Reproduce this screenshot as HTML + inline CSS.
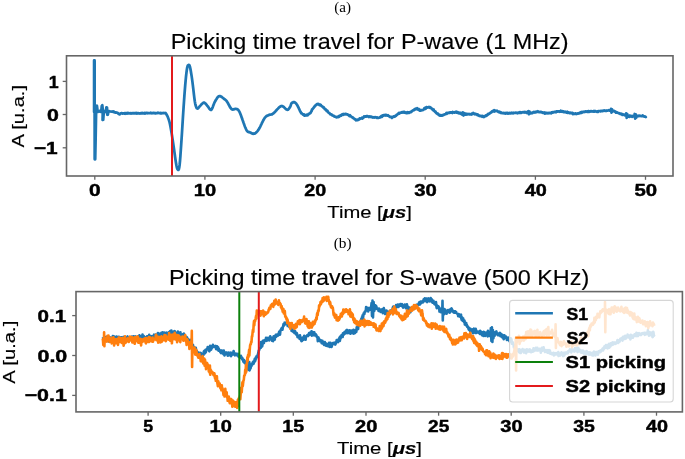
<!DOCTYPE html>
<html><head><meta charset="utf-8"><style>html,body{margin:0;padding:0;background:#fff;overflow:hidden}svg{display:block;will-change:transform}</style></head><body>
<svg width="685" height="459" viewBox="0 0 685 459">
<rect width="685" height="459" fill="#fff"/>
<clipPath id="c1"><rect x="66.5" y="55.8" width="606.5" height="120.2"/></clipPath>
<g clip-path="url(#c1)"><polyline points="94.1,112.0 94.1,60.4 94.6,60.4 94.7,159.3 95.2,159.3 95.6,140.0 96.1,113.0 96.4,106.5 96.9,105.6 97.4,109.5 98.0,111.8 99.0,110.8 100.0,111.6 101.2,111.8 101.8,106.0 102.3,105.2 102.8,110.0 102.6,120.0 103.2,119.8 103.8,112.0 104.8,111.0 105.8,112.0 106.4,107.3 107.0,107.5 107.3,114.8 107.9,114.6 108.5,111.0 110.0,111.3 112.0,111.6 112.4,111.5 112.8,111.9 113.2,111.5 113.6,112.0 114.0,111.7 114.4,112.3 114.8,112.3 115.2,112.5 115.6,112.3 116.0,112.6 116.4,112.5 116.8,112.6 117.2,112.8 117.6,112.8 118.0,113.2 118.4,113.8 118.8,114.0 119.2,114.1 119.6,114.4 120.0,113.8 120.4,113.4 120.8,113.4 121.2,113.2 121.6,113.2 122.0,113.2 122.4,113.6 122.8,113.3 123.2,113.3 123.6,113.4 124.0,113.6 124.4,113.3 124.8,113.2 125.2,113.7 125.6,113.1 126.0,113.2 126.4,113.4 126.8,113.6 127.2,113.1 127.6,112.9 128.0,113.4 128.4,113.2 128.8,113.2 129.2,113.3 129.6,113.3 130.0,113.3 130.4,113.2 130.8,113.5 131.2,113.5 131.6,113.3 132.0,113.2 132.4,113.4 132.8,113.3 133.2,113.1 133.6,113.2 134.0,113.4 134.4,113.2 134.8,113.2 135.2,113.3 135.6,113.2 136.0,113.2 136.4,112.9 136.8,113.5 137.2,113.2 137.6,113.1 138.0,113.4 138.4,113.3 138.8,113.2 139.2,113.4 139.6,113.5 140.0,113.3 140.4,113.4 140.8,113.5 141.2,113.0 141.6,113.1 142.0,113.3 142.4,112.9 142.8,113.1 143.2,113.4 143.6,113.3 144.0,113.3 144.4,112.9 144.8,113.5 145.2,113.2 145.6,113.3 146.0,113.2 146.4,112.9 146.8,112.9 147.2,113.0 147.6,113.4 148.0,113.0 148.4,113.1 148.8,113.1 149.2,113.2 149.6,113.2 150.0,113.2 150.4,112.9 150.8,112.7 151.2,113.1 151.6,113.2 152.0,113.3 152.4,113.1 152.8,113.0 153.2,113.2 153.6,112.9 154.0,112.9 154.4,113.0 154.8,113.1 155.2,113.4 155.6,113.2 156.0,113.3 156.4,113.1 156.8,113.1 157.2,113.0 157.6,113.0 158.0,112.7 158.4,112.9 158.8,112.9 159.2,113.2 159.6,113.2 160.0,113.2 160.4,113.3 160.8,113.0 161.2,113.2 161.6,113.4 162.0,113.1 162.4,113.2 162.8,113.1 163.2,112.9 163.6,113.1 164.0,113.0 164.4,113.2 164.8,113.1 165.2,113.3 165.6,113.0 166.0,113.6 166.4,114.3 166.8,115.0 167.2,115.7 167.6,116.5 168.0,117.5 168.4,118.6 168.8,119.7 169.2,121.0 169.6,122.5 170.0,124.2 170.4,126.2 170.8,128.4 171.2,130.7 171.6,133.0 172.0,135.5 172.4,138.1 172.8,140.7 173.2,143.5 173.6,146.2 174.0,149.0 174.4,151.9 174.8,154.8 175.2,157.7 175.6,160.5 176.0,163.0 176.4,165.2 176.8,167.1 177.2,168.6 177.6,169.4 178.0,169.8 178.4,169.9 178.8,169.3 179.2,167.7 179.6,165.0 180.0,161.0 180.4,155.9 180.8,150.2 181.2,144.4 181.6,138.5 182.0,132.4 182.4,125.9 182.8,119.3 183.2,113.1 183.6,107.1 184.0,101.4 184.4,95.7 184.8,90.4 185.2,85.4 185.6,80.8 186.0,76.7 186.4,73.1 186.8,70.0 187.2,67.5 187.6,66.0 188.0,65.3 188.4,65.0 188.8,64.9 189.2,65.0 189.6,65.7 190.0,67.0 190.4,68.9 190.8,71.0 191.2,73.4 191.6,75.9 192.0,78.6 192.4,81.6 192.8,84.8 193.2,88.2 193.6,91.7 194.0,95.2 194.4,98.4 194.8,101.3 195.2,103.6 195.6,105.3 196.0,106.5 196.4,107.5 196.8,108.2 197.2,108.5 197.6,108.6 198.0,108.4 198.4,108.0 198.8,107.5 199.2,106.9 199.6,106.5 200.0,106.0 200.4,105.6 200.8,105.1 201.2,104.7 201.6,104.2 202.0,103.8 202.4,103.5 202.8,103.1 203.2,102.9 203.6,102.7 204.0,102.6 204.4,102.8 204.8,103.0 205.2,103.3 205.6,103.7 206.0,104.2 206.4,104.7 206.8,105.2 207.2,105.7 207.6,106.1 208.0,106.7 208.4,107.2 208.8,107.8 209.2,108.4 209.6,109.0 210.0,109.4 210.4,109.8 210.8,109.8 211.2,109.9 211.6,109.4 212.0,108.8 212.4,107.9 212.8,106.9 213.2,105.8 213.6,104.7 214.0,103.7 214.4,102.8 214.8,101.9 215.2,101.2 215.6,100.5 216.0,99.8 216.4,99.2 216.8,98.5 217.2,97.9 217.6,97.4 218.0,96.9 218.4,96.6 218.8,96.4 219.2,96.1 219.6,96.1 220.0,96.2 220.4,96.2 220.8,96.4 221.2,96.6 221.6,96.9 222.0,97.1 222.4,97.5 222.8,97.8 223.2,98.1 223.6,98.4 224.0,98.8 224.4,99.1 224.8,99.4 225.2,99.7 225.6,100.0 226.0,100.4 226.4,100.8 226.8,101.4 227.2,101.9 227.6,102.6 228.0,103.3 228.4,104.0 228.8,104.8 229.2,105.5 229.6,106.3 230.0,107.0 230.4,107.7 230.8,108.2 231.2,108.7 231.6,109.2 232.0,109.3 232.4,109.5 232.8,109.6 233.2,109.5 233.6,109.4 234.0,109.3 234.4,109.1 234.8,109.0 235.2,108.9 235.6,108.9 236.0,108.9 236.4,109.0 236.8,109.1 237.2,109.2 237.6,109.4 238.0,109.7 238.4,110.1 238.8,110.7 239.2,111.4 239.6,112.1 240.0,113.1 240.4,114.1 240.8,115.1 241.2,116.1 241.6,117.2 242.0,118.3 242.4,119.5 242.8,120.6 243.2,121.7 243.6,122.9 244.0,124.0 244.4,125.1 244.8,126.2 245.2,127.2 245.6,128.1 246.0,129.1 246.4,129.9 246.8,130.5 247.2,131.2 247.6,131.5 248.0,131.8 248.4,132.0 248.8,132.0 249.2,132.1 249.6,132.2 250.0,132.4 250.4,132.6 250.8,132.8 251.2,133.0 251.6,133.2 252.0,133.4 252.4,133.5 252.8,133.7 253.2,133.8 253.6,133.7 254.0,133.7 254.4,133.6 254.8,133.4 255.2,133.3 255.6,133.0 256.0,132.7 256.4,132.3 256.8,131.9 257.2,131.5 257.6,131.0 258.0,130.4 258.4,129.9 258.8,129.2 259.2,128.5 259.6,127.8 260.0,127.1 260.4,126.3 260.8,125.4 261.2,124.6 261.6,123.8 262.0,122.9 262.4,122.1 262.8,121.3 263.2,120.5 263.6,119.8 264.0,119.1 264.4,118.4 264.8,117.8 265.2,117.4 265.6,116.9 266.0,116.5 266.4,116.2 266.8,115.9 267.2,115.8 267.6,115.6 268.0,115.4 268.4,115.2 268.8,115.0 269.2,114.9 269.6,114.7 270.0,114.7 270.4,114.6 270.8,114.6 271.2,114.5 271.6,114.4 272.0,114.3 272.4,114.0 272.8,113.8 273.2,113.6 273.6,113.2 274.0,112.8 274.4,112.4 274.8,112.1 275.2,111.6 275.6,111.2 276.0,110.7 276.4,110.3 276.8,109.8 277.2,109.4 277.6,109.0 278.0,108.6 278.4,108.1 278.8,107.7 279.2,107.3 279.6,107.0 280.0,106.8 280.4,106.5 280.8,106.3 281.2,106.0 281.6,106.1 282.0,106.1 282.4,106.2 282.8,106.3 283.2,106.6 283.6,106.9 284.0,107.2 284.4,107.6 284.8,108.0 285.2,108.4 285.6,108.8 286.0,109.1 286.4,109.4 286.8,109.6 287.2,109.8 287.6,109.7 288.0,109.6 288.4,109.3 288.8,108.9 289.2,108.3 289.6,107.7 290.0,107.1 290.4,106.3 290.8,105.1 291.2,103.9 291.6,103.2 292.0,102.9 292.4,102.6 292.8,102.4 293.2,102.2 293.6,102.1 294.0,102.1 294.4,102.2 294.8,102.4 295.2,102.6 295.6,103.0 296.0,103.4 296.4,103.9 296.8,104.5 297.2,105.1 297.6,105.8 298.0,106.6 298.4,107.4 298.8,108.3 299.2,109.2 299.6,110.0 300.0,110.9 300.4,111.8 300.8,112.1 301.2,113.2 301.6,113.2 302.0,113.5 302.4,114.0 302.8,114.4 303.2,114.6 303.6,114.9 304.0,114.4 304.4,115.6 304.8,115.1 305.2,115.5 305.6,115.2 306.0,115.4 306.4,115.3 306.8,114.8 307.2,115.3 307.6,115.2 308.0,114.5 308.4,114.0 308.8,114.1 309.2,113.8 309.6,113.7 310.0,113.2 310.4,113.2 310.8,112.4 311.2,111.6 311.6,111.0 312.0,109.6 312.4,109.4 312.8,108.7 313.2,108.3 313.6,107.9 314.0,107.2 314.4,106.9 314.8,106.0 315.2,105.8 315.6,105.3 316.0,104.9 316.4,104.7 316.8,104.2 317.2,104.2 317.6,104.0 318.0,104.3 318.4,104.0 318.8,104.2 319.2,105.0 319.6,104.6 320.0,104.8 320.4,105.2 320.8,104.9 321.2,105.6 321.6,106.0 322.0,106.2 322.4,106.7 322.8,107.0 323.2,107.5 323.6,107.3 324.0,108.0 324.4,108.2 324.8,109.1 325.2,109.2 325.6,109.2 326.0,110.1 326.4,110.2 326.8,111.1 327.2,111.2 327.6,111.0 328.0,111.9 328.4,112.6 328.8,112.8 329.2,112.8 329.6,113.5 330.0,113.8 330.4,114.3 330.8,114.4 331.2,114.6 331.6,114.5 332.0,115.1 332.4,115.4 332.8,115.5 333.2,115.9 333.6,115.6 334.0,116.4 334.4,116.4 334.8,116.7 335.2,116.7 335.6,116.8 336.0,117.1 336.4,117.3 336.8,117.0 337.2,117.2 337.6,116.9 338.0,117.1 338.4,116.8 338.8,116.2 339.2,116.7 339.6,115.9 340.0,116.0 340.4,115.4 340.8,115.1 341.2,115.6 341.6,114.8 342.0,114.4 342.4,114.7 342.8,114.1 343.2,114.3 343.6,114.7 344.0,114.0 344.4,114.1 344.8,114.1 345.2,114.0 345.6,113.9 346.0,114.4 346.4,114.1 346.8,114.4 347.2,114.5 347.6,114.3 348.0,114.9 348.4,115.0 348.8,115.4 349.2,115.6 349.6,116.1 350.0,115.3 350.4,115.9 350.8,116.2 351.2,116.4 351.6,117.0 352.0,117.2 352.4,117.5 352.8,117.3 353.2,117.8 353.6,118.3 354.0,118.5 354.4,118.8 354.8,119.2 355.2,119.4 355.6,119.4 356.0,120.3 356.4,119.8 356.8,120.2 357.2,120.1 357.6,120.2 358.0,119.6 358.4,119.4 358.8,119.6 359.2,119.4 359.6,118.5 360.0,118.3 360.4,118.7 360.8,118.5 361.2,118.4 361.6,118.4 362.0,117.8 362.4,118.6 362.8,117.9 363.2,117.8 363.6,117.3 364.0,116.5 364.4,116.9 364.8,116.6 365.2,116.7 365.6,116.5 366.0,116.6 366.4,116.1 366.8,116.3 367.2,116.4 367.6,116.2 368.0,116.3 368.4,116.6 368.8,117.0 369.2,116.5 369.6,116.9 370.0,116.4 370.4,116.6 370.8,116.9 371.2,117.1 371.6,116.7 372.0,117.2 372.4,117.1 372.8,117.5 373.2,117.5 373.6,117.4 374.0,117.2 374.4,117.5 374.8,117.3 375.2,117.4 375.6,117.2 376.0,117.4 376.4,117.4 376.8,117.8 377.2,117.9 377.6,117.5 378.0,117.8 378.4,117.9 378.8,117.9 379.2,117.5 379.6,117.5 380.0,117.2 380.4,117.4 380.8,116.5 381.2,116.8 381.6,115.9 382.0,116.8 382.4,116.4 382.8,115.4 383.2,115.7 383.6,115.3 384.0,115.0 384.4,115.3 384.8,115.1 385.2,115.5 385.6,115.0 386.0,114.8 386.4,115.2 386.8,115.4 387.2,115.6 387.6,115.7 388.0,115.3 388.4,115.7 388.8,116.1 389.2,116.1 389.6,116.8 390.0,116.7 390.4,116.9 390.8,117.0 391.2,117.2 391.6,116.9 392.0,117.9 392.4,117.2 392.8,117.0 393.2,116.6 393.6,116.9 394.0,116.4 394.4,116.7 394.8,116.6 395.2,116.2 395.6,115.6 396.0,115.8 396.4,115.1 396.8,114.9 397.2,114.6 397.6,114.1 398.0,114.1 398.4,113.4 398.8,113.0 399.2,113.6 399.6,112.9 400.0,112.9 400.4,112.9 400.8,112.6 401.2,112.3 401.6,112.5 402.0,112.2 402.4,112.5 402.8,112.2 403.2,112.2 403.6,112.5 404.0,111.9 404.4,111.9 404.8,112.6 405.2,112.8 405.6,112.6 406.0,112.4 406.4,113.0 406.8,112.8 407.2,113.0 407.6,112.3 408.0,112.7 408.4,112.4 408.8,112.3 409.2,112.8 409.6,112.6 410.0,112.1 410.4,112.0 410.8,112.2 411.2,111.8 411.6,111.4 412.0,111.3 412.4,110.9 412.8,110.3 413.2,110.3 413.6,110.2 414.0,110.1 414.4,109.3 414.8,109.2 415.2,109.1 415.6,108.6 416.0,109.2 416.4,108.9 416.8,109.1 417.2,108.2 417.6,108.6 418.0,109.5 418.4,108.9 418.8,109.1 419.2,109.9 419.6,110.6 420.0,110.4 420.4,110.0 420.8,110.5 421.2,110.4 421.6,110.2 422.0,110.1 422.4,110.1 422.8,110.0 423.2,109.9 423.6,109.6 424.0,109.0 424.4,108.3 424.8,108.8 425.2,108.0 425.6,108.8 426.0,107.7 426.4,107.3 426.8,107.1 427.2,107.6 427.6,107.5 428.0,107.4 428.4,107.3 428.8,107.0 429.2,107.5 429.6,107.1 430.0,107.1 430.4,107.9 430.8,108.1 431.2,108.0 431.6,108.5 432.0,109.1 432.4,109.4 432.8,109.2 433.2,110.1 433.6,109.5 434.0,110.6 434.4,111.1 434.8,111.3 435.2,111.8 435.6,111.7 436.0,112.6 436.4,113.1 436.8,113.1 437.2,113.8 437.6,114.0 438.0,113.8 438.4,114.5 438.8,115.1 439.2,114.7 439.6,115.3 440.0,115.6 440.4,115.1 440.8,115.4 441.2,115.7 441.6,115.7 442.0,115.1 442.4,115.5 442.8,115.1 443.2,114.9 443.6,115.1 444.0,114.7 444.4,114.4 444.8,114.3 445.2,114.0 445.6,114.0 446.0,113.5 446.4,112.9 446.8,113.7 447.2,113.3 447.6,113.2 448.0,113.0 448.4,112.8 448.8,112.8 449.2,112.5 449.6,112.9 450.0,112.6 450.4,112.3 450.8,112.6 451.2,112.3 451.6,112.4 452.0,112.5 452.4,113.0 452.8,112.0 453.2,112.4 453.6,112.4 454.0,112.3 454.4,112.6 454.8,112.1 455.2,112.1 455.6,112.2 456.0,111.8 456.4,112.6 456.8,112.0 457.2,112.6 457.6,112.8 458.0,112.3 458.4,112.7 458.8,112.8 459.2,113.4 459.6,113.2 460.0,112.7 460.4,113.6 460.8,113.8 461.2,113.1 461.6,113.0 462.0,114.5 462.4,113.9 462.8,113.4 463.0,112.5 463.5,115.5 464.0,113.0 464.5,114.5 464.9,114.5 465.3,114.6 465.7,113.6 466.1,114.6 466.5,114.4 466.9,114.2 467.3,114.0 467.7,114.3 468.1,114.0 468.5,114.2 468.9,114.1 469.3,114.0 469.7,114.3 470.1,114.4 470.5,114.3 470.9,114.2 471.3,114.5 471.7,113.6 472.1,113.9 472.5,113.8 472.9,114.0 473.3,113.0 473.7,113.5 474.1,113.5 474.5,113.7 474.9,114.3 475.3,113.9 475.7,113.9 476.1,114.2 476.5,114.5 476.9,114.4 477.3,115.1 477.7,114.5 478.1,115.4 478.5,115.4 478.9,115.7 479.3,116.0 479.7,115.7 480.1,116.0 480.5,116.1 480.9,116.0 481.3,116.2 481.7,116.2 482.1,116.7 482.5,115.9 482.9,116.2 483.3,116.6 483.7,117.0 484.1,116.4 484.5,116.7 484.9,116.1 485.3,115.8 485.7,115.4 486.1,115.7 486.5,115.9 486.9,115.2 487.3,114.6 487.7,114.8 488.1,114.0 488.5,113.8 488.9,114.1 489.3,113.7 489.7,113.5 490.1,113.0 490.5,112.7 490.9,112.5 491.3,112.0 491.7,112.2 492.1,111.3 492.5,111.0 492.9,111.1 493.3,111.4 493.7,110.8 494.1,110.2 494.5,111.5 494.9,110.5 495.3,110.7 495.7,111.0 496.1,110.9 496.5,110.9 496.9,110.7 497.3,111.4 497.7,111.2 498.1,111.6 498.5,112.0 498.9,111.9 499.3,111.7 499.7,112.2 500.1,112.6 500.5,112.8 500.9,112.3 501.3,112.8 501.7,112.9 502.1,113.2 502.5,113.0 502.9,113.0 503.3,112.9 503.7,113.2 504.1,113.3 504.5,113.1 504.9,113.0 505.3,113.6 505.7,113.2 506.1,113.0 506.5,113.4 506.9,112.9 507.3,112.9 507.7,113.5 508.1,113.2 508.5,113.5 508.9,113.4 509.3,113.0 509.7,113.4 510.1,113.1 510.5,113.3 510.9,113.3 511.3,113.2 511.7,112.8 512.1,113.2 512.5,113.1 512.9,113.3 513.3,112.8 513.7,113.1 514.1,113.0 514.5,112.9 514.9,112.9 515.3,112.9 515.7,112.6 516.1,112.8 516.5,112.8 516.9,113.0 517.3,112.8 517.7,113.2 518.1,112.9 518.5,112.8 518.9,112.7 519.3,112.3 519.7,112.7 520.1,112.9 520.5,112.3 520.9,112.9 521.3,112.7 521.7,112.5 522.1,112.3 522.5,112.4 522.9,112.1 523.3,112.3 523.7,112.3 524.1,112.3 524.5,111.9 524.9,112.5 525.3,112.1 525.7,112.3 526.1,112.4 526.5,112.2 526.9,113.0 527.3,112.3 527.7,112.5 528.1,112.4 528.5,112.7 528.5,111.0 529.0,114.2 529.5,111.5 530.0,113.5 530.4,112.8 530.8,113.3 531.2,113.0 531.6,112.9 532.0,113.2 532.4,113.1 532.8,112.6 533.2,112.4 533.6,112.0 534.0,112.1 534.4,112.5 534.8,112.4 535.2,111.8 535.6,112.0 536.0,112.3 536.4,111.7 536.8,111.7 537.2,111.6 537.6,111.9 538.0,111.3 538.4,111.8 538.8,112.0 539.2,111.9 539.6,112.2 540.0,112.2 540.4,111.9 540.8,111.9 541.2,111.9 541.6,112.4 542.0,112.3 542.4,112.5 542.8,112.3 543.2,112.9 543.6,112.9 544.0,113.0 544.4,112.5 544.8,113.6 545.2,113.2 545.6,112.7 546.0,113.3 546.4,113.0 546.8,112.9 547.2,112.9 547.6,113.3 548.0,113.3 548.4,113.2 548.8,113.0 549.2,112.8 549.6,113.1 550.0,112.9 550.4,112.9 550.8,113.0 551.2,113.2 551.6,112.5 552.0,112.8 552.4,112.2 552.8,112.6 553.2,112.4 553.6,112.2 554.0,112.1 554.4,111.8 554.8,111.8 555.2,112.0 555.6,111.9 556.0,112.3 556.4,111.3 556.8,111.4 557.2,111.5 557.6,111.5 558.0,111.3 558.4,111.3 558.8,111.4 559.2,111.8 559.6,111.4 560.0,111.3 560.4,111.6 560.8,110.8 561.2,111.3 561.6,111.4 562.0,111.7 562.4,111.1 562.8,111.7 563.2,111.5 563.6,112.1 564.0,112.1 564.4,111.8 564.8,112.1 565.2,111.7 565.6,112.2 566.0,112.3 566.4,112.5 566.8,112.2 567.2,111.8 567.6,112.7 568.0,112.2 568.4,112.4 568.8,112.5 569.2,113.1 569.6,112.7 570.0,113.1 570.4,112.9 570.8,112.6 571.2,113.1 571.6,113.2 572.0,113.0 572.4,112.9 572.8,114.1 573.2,114.1 573.6,113.7 574.0,113.8 574.4,113.9 574.8,113.9 575.2,113.3 575.6,113.3 576.0,113.9 576.4,114.0 576.8,113.8 577.2,113.7 577.6,113.4 578.0,113.6 578.4,113.6 578.8,113.2 579.2,113.3 579.6,113.2 580.0,112.6 580.4,113.0 580.8,112.3 581.2,112.2 581.6,112.8 582.0,111.8 582.4,112.1 582.8,112.3 583.2,112.1 583.6,111.9 584.0,111.6 584.4,112.0 584.8,111.9 585.2,111.7 585.6,111.5 586.0,111.3 586.4,111.7 586.8,111.6 587.2,111.9 587.6,111.5 588.0,111.8 588.4,111.2 588.8,111.1 589.2,111.8 589.6,111.4 590.0,111.3 590.4,111.5 590.8,111.2 591.2,111.4 591.6,111.1 592.0,111.5 592.4,111.3 592.8,111.4 593.2,111.4 593.6,111.6 594.0,111.0 594.4,111.5 594.8,111.3 595.2,111.1 595.6,111.3 596.0,111.5 596.4,111.5 596.8,111.9 597.2,111.3 597.6,111.4 598.0,111.9 598.4,111.2 598.8,111.1 599.2,111.2 599.6,111.1 600.0,111.2 600.4,111.3 600.8,111.0 601.2,110.9 601.6,111.1 602.0,110.8 602.4,110.8 602.8,111.1 603.2,110.9 603.6,110.6 604.0,110.5 604.4,110.6 604.8,110.4 605.2,110.9 605.6,110.9 606.0,110.8 606.4,110.8 606.8,110.5 607.2,110.6 607.6,110.6 608.0,110.5 608.4,110.4 608.8,110.2 609.2,110.6 609.6,110.6 610.0,110.2 610.4,110.5 610.8,110.6 611.0,108.8 611.5,112.6 612.0,109.4 612.5,111.6 612.9,111.1 613.3,110.7 613.7,110.9 614.1,111.0 614.5,111.2 614.9,111.3 615.3,112.0 615.7,111.6 616.1,112.7 616.5,112.3 616.9,112.6 617.3,112.5 617.7,112.9 618.1,112.9 618.5,113.1 618.9,113.2 619.3,113.4 619.7,113.5 620.1,113.8 620.5,113.6 620.9,113.6 621.3,114.3 621.7,113.9 622.1,114.3 622.5,114.9 622.9,114.3 623.3,114.6 623.7,114.6 624.1,114.7 624.5,115.2 624.9,115.2 625.3,115.4 625.7,115.0 626.1,115.7 626.2,113.4 626.7,117.9 627.2,114.0 627.7,117.0 628.1,115.9 628.5,115.6 628.9,116.0 629.3,115.8 629.7,116.7 630.1,115.8 630.5,116.3 630.9,116.0 631.3,116.1 631.7,116.0 632.1,116.7 632.5,116.1 632.9,116.2 633.3,116.4 633.7,116.3 634.1,116.5 634.5,116.1 634.7,114.0 635.2,118.6 635.7,114.4 636.2,117.6 636.6,115.7 637.0,116.2 637.4,116.3 637.8,116.1 638.2,115.7 638.6,116.2 639.0,116.0 639.4,115.7 639.8,115.9 640.2,115.8 640.6,115.9 641.0,116.1 641.4,116.2 641.8,116.0 642.2,116.1 642.6,115.5 643.0,116.0 643.4,116.4 643.8,116.2 644.2,116.6 644.6,116.5 645.0,116.6 645.4,116.7 645.8,117.1" fill="none" stroke="#1f77b4" stroke-width="2.75" stroke-linejoin="round" stroke-linecap="round"/>
<line x1="172" y1="55.8" x2="172" y2="176.0" stroke="#e31a1c" stroke-width="2"/></g>
<rect x="66.5" y="55.8" width="606.5" height="120.2" fill="none" stroke="#666666" stroke-width="1.6"/>
<line x1="94.8" y1="176.0" x2="94.8" y2="179.8" stroke="#666666" stroke-width="1.3"/>
<line x1="204.9" y1="176.0" x2="204.9" y2="179.8" stroke="#666666" stroke-width="1.3"/>
<line x1="315.1" y1="176.0" x2="315.1" y2="179.8" stroke="#666666" stroke-width="1.3"/>
<line x1="425.2" y1="176.0" x2="425.2" y2="179.8" stroke="#666666" stroke-width="1.3"/>
<line x1="535.4" y1="176.0" x2="535.4" y2="179.8" stroke="#666666" stroke-width="1.3"/>
<line x1="645.5" y1="176.0" x2="645.5" y2="179.8" stroke="#666666" stroke-width="1.3"/>
<line x1="62.7" y1="81.4" x2="66.5" y2="81.4" stroke="#666666" stroke-width="1.3"/>
<line x1="62.7" y1="114.5" x2="66.5" y2="114.5" stroke="#666666" stroke-width="1.3"/>
<line x1="62.7" y1="147.8" x2="66.5" y2="147.8" stroke="#666666" stroke-width="1.3"/>
<clipPath id="c2"><rect x="76.0" y="291.6" width="606.4" height="120.29999999999995"/></clipPath>
<g clip-path="url(#c2)">
<polyline points="103.0,337.0 103.3,338.9 103.7,339.7 104.0,337.9 104.4,336.9 104.7,338.4 105.1,339.0 105.4,339.8 105.8,337.0 106.1,336.9 106.5,339.3 106.8,339.0 107.2,340.2 107.5,339.6 107.9,338.3 108.2,338.1 108.6,341.5 108.9,338.0 109.3,337.4 109.6,337.0 110.0,338.5 110.3,338.5 110.7,337.9 111.0,338.2 111.4,338.6 111.7,339.1 112.1,339.6 112.4,338.5 112.8,336.1 113.1,339.1 113.5,336.5 113.8,338.0 114.2,336.5 114.5,338.2 114.9,337.3 115.2,338.4 115.6,341.3 115.9,338.1 116.3,339.2 116.6,336.5 117.0,337.8 117.3,338.9 117.7,338.0 118.0,338.5 118.4,338.2 118.7,336.9 119.1,338.7 119.4,337.1 119.8,340.3 120.1,337.4 120.5,338.8 120.8,338.0 121.2,339.1 121.5,337.2 121.9,339.1 122.2,337.8 122.6,339.4 122.9,338.6 123.3,338.0 123.6,336.9 124.0,338.8 124.3,338.4 124.7,339.8 125.0,337.3 125.4,338.4 125.7,338.4 126.1,338.1 126.4,338.0 126.8,337.9 127.1,337.0 127.5,336.5 127.8,337.2 128.2,338.4 128.5,339.5 128.9,338.8 129.2,338.9 129.6,338.5 129.9,338.4 130.3,337.8 130.6,338.5 131.0,339.7 131.3,337.2 131.7,336.7 132.0,339.9 132.4,337.8 132.7,338.7 133.1,338.6 133.4,336.2 133.8,340.4 134.1,339.6 134.5,337.7 134.8,338.4 135.2,337.6 135.5,336.4 135.9,337.4 136.2,337.9 136.6,338.8 136.9,338.3 137.3,337.5 137.6,339.1 138.0,336.5 138.3,338.4 138.7,338.8 139.0,337.1 139.4,335.3 139.7,336.3 140.1,337.7 140.4,338.0 140.8,339.2 141.1,336.2 141.5,337.4 141.8,338.1 142.2,337.1 142.5,334.5 142.9,338.3 143.2,340.1 143.6,338.5 143.9,336.1 144.3,336.7 144.6,337.5 145.0,340.2 145.3,337.9 145.7,337.3 146.0,339.0 146.4,337.0 146.7,339.3 147.1,336.2 147.4,336.4 147.8,337.9 148.1,338.7 148.5,337.7 148.8,337.3 149.2,334.7 149.5,336.0 149.9,336.1 150.2,336.1 150.6,337.4 150.9,336.3 151.3,337.6 151.6,336.7 152.0,336.2 152.3,336.7 152.7,337.1 153.0,337.5 153.4,335.9 153.7,336.1 154.1,334.7 154.4,338.3 154.8,338.0 155.1,336.0 155.5,335.6 155.8,334.7 156.2,336.3 156.5,336.3 156.9,338.7 157.2,336.3 157.6,335.0 157.9,333.0 158.3,337.5 158.6,336.0 159.0,333.8 159.3,335.9 159.7,333.7 160.0,338.7 160.4,336.9 160.7,336.1 161.1,335.1 161.4,332.7 161.8,335.1 162.1,333.3 162.5,335.8 162.8,332.4 163.2,333.8 163.5,336.2 163.9,336.7 164.2,333.2 164.6,332.6 164.9,335.4 165.3,335.3 165.6,333.0 166.0,333.2 166.3,333.1 166.7,332.5 167.0,333.0 167.4,335.2 167.7,334.4 168.1,336.0 168.4,333.3 168.8,333.2 169.1,332.1 169.5,333.1 169.8,331.6 170.2,331.0 170.5,333.9 170.9,334.7 171.2,334.0 171.4,330.5 171.7,334.0 172.0,333.0 172.3,334.6 172.7,333.3 173.0,332.2 173.4,333.1 173.7,332.6 174.1,331.8 174.4,331.1 174.8,331.4 175.1,333.2 175.5,333.5 175.8,332.8 176.2,335.1 176.5,333.7 176.9,334.3 177.2,335.1 177.6,332.8 177.9,331.5 178.3,334.9 178.6,333.2 179.0,335.8 179.3,334.7 179.7,335.6 180.0,335.4 180.4,332.2 180.7,335.7 181.1,334.2 181.4,334.2 181.8,334.7 182.1,336.3 182.5,336.7 182.8,337.0 183.2,334.0 183.5,335.5 183.9,333.5 184.2,336.4 184.6,337.5 184.9,336.1 185.3,337.5 185.6,337.7 186.0,338.9 186.3,336.9 186.7,337.2 187.0,337.5 187.4,340.8 187.7,340.3 188.1,339.1 188.4,339.9 188.8,340.0 189.1,340.5 189.5,340.4 189.8,340.6 190.2,339.9 190.5,341.1 190.9,344.4 191.2,343.5 191.6,343.5 191.9,343.7 192.3,344.6 192.6,345.5 193.0,345.0 193.3,346.7 193.7,347.5 194.0,347.0 194.4,347.6 194.7,347.9 195.1,348.4 195.4,351.2 195.8,347.8 196.1,350.6 196.5,350.6 196.8,350.9 197.2,352.1 197.5,353.7 197.9,352.7 198.2,352.8 198.6,352.5 198.9,353.3 199.3,354.8 199.6,353.5 200.0,352.8 200.3,352.9 200.7,353.3 201.0,353.1 201.4,356.2 201.7,355.4 202.1,354.7 202.4,356.6 202.8,353.8 203.1,355.2 203.5,354.8 203.8,351.5 204.2,351.0 204.5,351.3 204.9,353.1 205.2,353.2 205.6,349.7 205.9,352.0 206.3,349.9 206.6,349.6 207.0,349.1 207.3,349.1 207.7,347.1 208.0,347.8 208.4,347.3 208.7,349.2 209.1,350.9 209.4,351.3 209.8,347.6 210.1,345.7 210.5,347.1 210.8,346.2 211.2,349.6 211.5,347.8 211.9,346.1 212.2,347.9 212.6,347.3 212.9,344.7 213.3,346.0 213.6,346.3 214.0,346.6 214.3,346.7 214.7,346.3 215.0,347.0 215.4,346.3 215.7,346.0 216.1,349.1 216.4,348.0 216.8,348.4 217.1,346.2 217.5,348.2 217.8,349.7 218.2,347.4 218.5,350.6 218.9,349.1 219.2,350.4 219.6,350.1 219.9,350.7 220.3,352.2 220.6,350.5 221.0,353.1 221.3,350.5 221.7,350.6 222.0,352.7 222.4,350.8 222.7,351.8 223.1,353.5 223.4,354.1 223.8,350.6 224.1,353.5 224.5,355.4 224.8,354.7 225.2,353.1 225.5,352.8 225.9,353.3 226.2,352.4 226.6,353.6 226.9,353.8 227.3,353.9 227.6,355.6 228.0,354.0 228.3,352.5 228.7,355.5 229.0,353.0 229.4,353.7 229.7,354.0 230.1,353.6 230.4,352.7 230.8,353.4 231.1,356.2 231.5,352.8 231.8,353.2 232.2,354.7 232.5,354.2 232.9,354.2 233.2,354.4 233.6,351.1 233.9,352.4 234.3,353.7 234.6,354.2 235.0,355.3 235.3,354.4 235.7,353.6 236.0,354.1 236.4,353.9 236.7,354.6 237.1,355.3 237.4,354.2 237.8,353.8 238.1,353.9 238.5,356.5 238.8,356.9 239.2,356.8 239.5,356.9 239.9,357.1 240.2,356.5 240.6,357.6 240.9,355.9 241.3,357.3 241.6,357.1 242.0,359.3 242.3,358.1 242.7,359.1 243.0,360.2 243.4,361.8 243.7,359.7 244.1,360.1 244.4,362.8 244.8,361.0 245.1,363.4 245.5,362.6 245.8,363.7 246.2,362.1 246.5,365.5 246.9,364.5 247.2,364.5 247.6,368.5 247.9,367.2 248.3,369.8 248.6,367.4 249.0,366.6 249.3,362.0 249.6,370.5 249.9,367.2 250.2,366.9 250.6,368.4 250.9,366.1 251.3,366.2 251.6,365.8 252.0,363.6 252.3,364.4 252.7,363.2 253.0,361.9 253.4,364.0 253.7,363.3 254.1,362.2 254.4,360.5 254.8,358.7 255.1,361.2 255.5,359.9 255.8,357.5 256.2,358.7 256.5,356.2 256.9,357.0 257.2,356.2 257.6,355.4 258.0,354.3 258.3,353.2 258.7,350.6 259.0,350.5 259.4,349.2 259.7,348.5 260.1,348.1 260.4,347.5 260.8,347.9 261.1,342.1 261.5,345.1 261.8,343.9 262.2,346.4 262.5,344.4 262.9,340.9 263.2,343.0 263.6,341.6 263.9,343.1 264.3,340.4 264.6,341.2 265.0,340.9 265.3,340.6 265.7,339.7 266.0,337.9 266.4,340.4 266.7,340.8 267.1,339.3 267.4,337.9 267.8,339.3 268.1,339.6 268.5,338.6 268.8,338.7 269.2,340.4 269.5,337.3 269.9,338.0 270.2,336.4 270.6,337.8 270.9,337.8 271.3,337.5 271.6,337.8 272.0,340.8 272.3,338.4 272.7,338.5 273.0,341.2 273.4,338.3 273.7,336.2 274.1,338.6 274.4,336.9 274.8,339.7 275.1,335.9 275.5,336.5 275.8,334.9 276.2,336.7 276.5,334.9 276.9,335.7 277.2,334.9 277.6,334.3 277.9,335.7 278.3,335.3 278.6,333.8 279.0,332.2 279.3,331.5 279.7,332.7 280.0,334.7 280.4,330.9 280.7,329.9 281.1,329.5 281.4,328.5 281.8,328.0 282.1,328.4 282.5,329.7 282.8,327.3 283.2,326.0 283.5,324.1 283.9,325.7 284.2,324.8 284.6,322.7 284.9,322.5 285.3,323.4 285.6,324.2 286.0,323.5 286.3,323.0 286.7,322.3 287.0,323.2 287.4,323.1 287.7,326.0 288.1,322.5 288.4,323.9 288.8,326.3 289.1,324.9 289.5,327.3 289.8,326.0 290.2,326.6 290.5,326.4 290.9,325.7 291.2,326.6 291.6,330.9 291.9,329.5 292.3,329.9 292.6,330.8 293.0,330.8 293.3,331.8 293.7,330.7 294.0,331.2 294.4,333.1 294.7,331.8 295.1,331.1 295.4,332.8 295.8,332.8 296.1,334.5 296.5,333.3 296.8,333.2 297.2,334.4 297.5,337.1 297.9,335.5 298.2,336.0 298.6,336.2 298.9,336.8 299.3,337.9 299.6,338.7 300.0,335.4 300.3,339.2 300.7,337.9 301.0,337.7 301.4,341.1 301.7,338.2 302.1,340.9 302.4,339.9 302.8,337.5 303.1,339.3 303.5,339.6 303.8,338.5 304.2,335.8 304.5,337.9 304.9,337.9 305.2,336.6 305.6,339.8 305.9,337.0 306.3,336.6 306.6,336.4 307.0,335.5 307.3,335.2 307.7,336.0 308.0,336.0 308.4,334.7 308.7,334.9 309.1,333.1 309.4,335.0 309.8,333.1 310.1,333.9 310.5,332.3 310.8,332.5 311.2,333.1 311.5,331.3 311.9,335.7 312.2,332.7 312.6,332.6 312.9,332.1 313.3,335.1 313.6,335.1 314.0,334.0 314.3,332.4 314.7,333.8 315.0,335.5 315.4,334.6 315.7,334.2 316.1,334.6 316.4,335.5 316.8,336.9 317.1,336.5 317.5,337.6 317.8,341.1 318.2,340.5 318.5,337.5 318.9,339.4 319.2,339.5 319.6,339.5 319.9,341.3 320.3,339.9 320.6,340.3 321.0,340.5 321.3,341.2 321.7,343.2 322.0,342.9 322.4,340.7 322.7,342.1 323.1,341.9 323.4,344.1 323.8,343.7 324.1,344.8 324.5,343.9 324.8,342.0 325.2,345.1 325.5,345.0 325.9,345.6 326.2,343.6 326.6,345.4 326.9,344.7 327.3,344.8 327.6,346.1 328.0,346.2 328.3,344.7 328.7,343.8 329.0,342.8 329.4,345.0 329.7,347.0 330.1,345.5 330.4,342.7 330.8,344.2 331.1,345.6 331.5,346.9 331.8,346.2 332.2,345.0 332.5,344.6 332.9,343.0 333.2,343.5 333.6,343.5 333.9,342.8 334.3,343.6 334.6,342.8 335.0,343.5 335.3,344.6 335.7,343.5 336.0,342.9 336.4,341.8 336.7,340.0 337.1,341.4 337.4,341.9 337.8,339.7 338.1,342.1 338.5,339.8 338.8,340.3 339.2,339.0 339.5,337.5 339.9,341.0 340.2,336.6 340.6,338.6 340.9,336.3 341.3,336.8 341.6,335.0 342.0,335.0 342.3,336.1 342.7,337.0 343.0,333.2 343.4,333.9 343.7,334.7 344.1,332.5 344.4,333.8 344.8,331.7 345.1,333.1 345.5,332.6 345.8,333.4 346.2,332.2 346.5,330.1 346.9,332.2 347.2,330.0 347.6,332.1 347.9,333.1 348.3,332.0 348.6,330.7 349.0,332.9 349.3,331.8 349.7,330.3 350.0,331.5 350.4,333.8 350.7,331.9 351.1,332.6 351.4,332.2 351.8,330.6 352.1,332.0 352.5,333.1 352.8,332.9 353.2,332.3 353.5,329.8 353.9,333.6 354.2,332.8 354.6,332.9 354.9,333.0 355.3,330.5 355.6,330.0 356.0,330.7 356.3,331.9 356.7,327.4 357.0,328.7 357.4,327.6 357.7,328.5 358.1,329.0 358.4,326.2 358.8,324.4 359.1,325.3 359.5,324.1 359.8,321.8 360.2,324.0 360.5,321.6 360.9,322.3 361.2,319.1 361.6,321.3 361.9,317.4 362.3,319.6 362.6,315.4 363.0,318.4 363.3,315.5 363.7,313.3 364.0,314.0 364.4,314.0 364.7,311.6 365.1,311.4 365.4,311.7 365.8,310.6 366.1,307.0 366.5,309.1 366.8,309.8 367.2,309.3 367.5,309.8 367.9,307.7 368.2,311.5 368.6,309.3 368.9,308.7 369.3,309.7 369.6,309.6 370.0,308.6 370.3,307.7 370.7,309.7 371.0,308.0 371.6,303.0 372.0,316.0 372.5,300.5 373.0,317.5 373.6,302.0 374.2,311.0 374.8,305.0 375.4,309.0 375.8,308.7 376.1,305.9 376.5,306.9 376.8,308.9 377.2,308.5 377.5,308.9 377.9,309.4 378.2,309.1 378.6,311.0 378.9,308.5 379.3,308.9 379.6,310.0 380.0,310.6 380.3,310.9 380.7,311.9 381.0,309.7 381.4,311.8 381.7,311.1 382.1,309.4 382.4,310.6 382.8,313.3 383.1,311.8 383.5,310.4 383.8,308.1 384.2,310.1 384.5,310.2 384.9,311.2 385.2,314.0 385.6,312.2 385.9,311.9 386.3,310.6 386.6,310.6 387.0,312.1 387.3,312.0 387.7,315.9 388.0,312.5 388.4,312.3 388.7,314.4 389.1,313.1 389.4,311.4 389.8,314.2 390.1,312.0 390.5,310.6 390.8,312.2 391.2,312.1 391.5,310.8 391.9,311.7 392.2,311.5 392.6,309.1 392.9,307.3 393.3,306.5 393.6,308.9 394.0,310.2 394.3,309.6 394.7,309.8 395.0,310.0 395.4,307.5 395.7,308.5 396.1,305.1 396.4,307.5 396.8,306.9 397.1,306.1 397.5,305.5 397.8,304.5 398.2,305.8 398.5,307.0 398.9,305.0 399.2,306.0 399.6,304.5 399.9,305.5 400.3,304.0 400.6,305.7 401.0,305.0 401.3,305.7 401.7,304.7 402.0,304.1 402.4,305.2 402.7,306.9 403.1,307.6 403.4,305.5 403.8,306.9 404.1,307.0 404.5,306.7 404.8,304.5 405.2,306.9 405.5,305.4 405.9,308.2 406.2,307.9 406.6,307.8 406.9,304.2 407.3,308.2 407.6,308.6 408.0,306.5 408.3,309.4 408.7,308.6 409.0,308.5 409.4,308.0 409.7,307.7 410.1,308.5 410.4,312.2 410.8,309.3 411.1,309.2 411.5,308.1 411.8,308.0 412.2,308.0 412.5,307.4 412.9,309.3 413.2,307.8 413.6,309.0 413.9,306.3 414.3,308.6 414.6,307.2 415.0,307.9 415.3,306.7 415.7,305.5 416.0,307.8 416.4,305.6 416.7,305.7 417.1,304.6 417.4,305.7 417.8,304.7 418.1,305.2 418.5,305.0 418.8,303.5 419.2,302.3 419.5,304.2 419.9,304.5 420.2,303.9 420.6,301.5 420.9,303.3 421.3,302.7 421.6,302.4 422.0,302.4 422.3,301.3 422.7,301.7 423.0,302.4 423.4,300.5 423.7,299.3 424.1,300.7 424.4,300.9 424.8,298.4 425.1,299.7 425.5,301.1 425.8,300.1 426.2,300.3 426.5,298.6 426.9,301.1 427.2,302.1 427.6,299.7 427.9,299.0 428.3,298.5 428.6,301.0 429.0,300.0 429.3,298.9 429.7,301.4 430.0,300.9 430.4,300.8 430.7,298.1 431.1,300.2 431.4,301.2 431.8,299.2 432.1,301.9 432.5,302.7 432.8,302.5 433.2,300.7 433.5,300.9 433.9,303.2 434.2,303.6 434.6,304.2 434.9,304.4 435.3,303.3 435.6,303.4 436.0,302.1 436.3,305.7 436.7,308.1 437.0,305.4 437.4,305.9 437.7,307.8 438.1,308.0 438.4,306.3 438.8,307.5 439.1,307.4 439.5,311.5 439.8,308.4 440.2,310.5 440.5,312.0 440.9,312.2 441.2,311.8 441.6,312.2 441.9,308.8 442.3,310.1 442.5,300.7 442.8,320.5 443.1,310.6 443.5,310.0 443.8,310.6 444.2,314.1 444.5,309.1 444.9,311.8 445.2,309.7 445.6,312.8 445.9,312.8 446.3,310.7 446.6,313.7 447.0,311.2 447.3,312.6 447.7,311.3 448.0,310.0 448.4,310.0 448.7,310.2 449.1,310.9 449.4,310.1 449.8,312.7 450.1,309.6 450.5,309.3 450.8,309.0 451.2,309.0 451.5,308.4 451.9,309.1 452.2,311.5 452.6,310.7 452.9,310.6 453.3,311.4 453.6,312.5 454.0,312.2 454.3,312.6 454.7,311.3 455.0,311.9 455.4,311.5 455.7,312.6 456.1,312.0 456.4,312.8 456.8,313.4 457.1,313.6 457.5,313.8 457.8,313.8 458.2,316.3 458.5,314.6 458.9,314.2 459.2,316.0 459.6,314.8 459.9,315.2 460.3,317.0 460.6,315.3 461.0,314.7 461.3,318.5 461.7,319.9 462.0,317.2 462.4,318.6 462.7,320.9 463.1,318.3 463.4,320.2 463.8,320.4 464.1,322.1 464.5,320.5 464.8,324.5 465.2,323.8 465.5,324.8 465.9,324.6 466.2,323.0 466.6,325.8 466.9,324.9 467.3,327.0 467.6,326.3 468.0,327.3 468.3,327.9 468.7,329.4 469.0,329.8 469.4,327.9 469.7,329.3 470.1,331.3 470.4,330.4 470.8,329.1 471.1,330.0 471.5,329.8 471.8,331.5 472.2,330.5 472.5,331.0 472.9,333.3 473.2,329.0 473.6,329.5 473.9,328.7 474.3,328.9 474.6,331.9 475.0,331.2 475.3,332.9 475.7,328.7 476.0,330.0 476.4,332.9 476.7,332.5 477.1,332.4 477.4,332.5 477.8,331.6 478.1,331.6 478.5,331.8 478.8,332.8 479.2,331.7 479.5,332.4 479.9,333.9 480.2,330.9 480.6,331.4 480.9,333.1 481.3,332.2 481.6,332.4 482.0,335.2 482.3,333.2 482.7,332.3 483.0,334.2 483.4,336.0 483.7,331.7 484.1,332.3 484.4,333.3 484.8,332.5 485.1,335.9 485.5,334.0 485.8,332.9 486.2,334.0 486.5,332.5 486.9,332.8 487.2,333.7 487.6,336.4 487.9,330.9 488.3,334.1 488.6,335.3 489.0,334.6 489.3,336.0 489.7,334.2 490.0,333.9 490.4,333.6 490.4,333.0 490.9,328.0 491.4,341.0 491.9,327.3 492.4,342.0 492.9,330.0 493.4,338.5 493.9,332.0 494.2,332.9 494.6,335.9 495.0,332.5 495.3,333.8 495.7,333.3 496.0,333.1 496.4,331.4 496.7,333.6 497.1,334.3 497.4,334.3 497.8,335.2 498.1,334.1 498.5,333.6 498.8,334.8 499.2,335.3 499.5,333.5 499.9,332.8 500.2,333.6 500.6,336.2 500.9,336.3 501.3,334.1 501.6,335.5 502.0,336.5 502.3,337.3 502.7,335.1 503.0,335.7 503.4,337.9 503.7,339.2 504.1,338.4 504.4,335.3 504.8,337.4 505.1,336.6 505.5,337.1 505.8,336.5 506.2,336.9 506.5,337.7 506.9,340.0 507.2,338.9 507.6,338.7 507.9,338.4 508.3,337.7 508.6,338.5 509.0,340.4 509.3,340.1 509.7,341.5 510.0,339.7 510.4,339.7 510.7,338.2 511.1,341.1 511.4,339.2 511.8,343.7 512.1,341.8 512.5,343.2 512.8,342.4 513.2,344.1 513.5,344.3 513.9,347.5 514.2,347.1 514.6,346.0 514.9,345.7 515.3,348.5 515.6,348.5 516.0,348.1 516.3,350.6 516.7,350.1 517.0,350.7 517.4,350.1 517.7,350.3 518.1,350.6 518.4,349.4 518.8,352.1 519.1,351.9 519.5,349.4 519.8,351.6 520.2,352.8 520.5,351.7 520.9,352.9 521.2,351.0 521.6,351.3 521.9,349.7 522.3,350.1 522.6,349.0 523.0,350.1 523.3,351.4 523.7,351.7 524.0,352.5 524.4,351.2 524.7,349.8 525.1,351.5 525.4,350.8 525.8,353.0 526.1,353.2 526.5,352.0 526.8,349.4 527.2,350.1 527.5,351.0 527.9,349.9 528.2,351.3 528.6,351.5 528.9,351.6 529.3,350.8 529.6,349.4 530.0,349.5 530.3,350.3 530.7,352.0 531.0,352.2 531.4,351.5 531.7,350.7 532.1,351.0 532.4,351.1 532.8,351.7 533.1,351.1 533.5,348.2 533.8,351.1 534.2,350.4 534.5,349.4 534.9,350.5 535.2,350.2 535.6,349.7 535.9,347.7 536.3,349.9 536.6,350.4 537.0,349.6 537.3,347.7 537.7,350.2 538.0,350.5 538.4,349.8 538.7,350.1 539.1,349.1 539.4,348.8 539.8,350.2 540.1,349.1 540.5,349.7 540.8,352.7 541.2,350.4 541.5,349.8 541.9,347.7 542.2,349.8 542.6,350.6 542.9,348.9 543.3,349.6 543.6,347.3 544.0,350.7 544.3,349.4 544.7,351.1 545.0,352.0 545.4,350.3 545.7,351.8 546.1,351.1 546.4,350.7 546.8,350.7 547.1,350.1 547.5,352.8 547.8,352.5 548.2,350.3 548.5,352.6 548.9,350.9 549.2,350.1 549.6,353.4 549.9,350.6 550.3,353.6 550.6,352.6 551.0,353.6 551.3,353.2 551.7,354.1 552.0,353.3 552.4,353.7 552.7,353.4 553.1,354.5 553.4,352.9 553.8,354.7 554.1,355.4 554.5,353.6 554.8,354.3 555.2,353.2 555.5,353.5 555.9,354.3 556.2,353.6 556.6,353.0 556.9,354.1 557.3,354.4 557.6,354.6 558.0,355.1 558.3,352.1 558.7,356.0 559.0,354.1 559.4,353.4 559.7,353.9 560.1,354.8 560.4,355.3 560.8,353.8 561.1,354.4 561.5,352.3 561.8,354.4 562.2,354.0 562.5,353.5 562.9,355.0 563.2,356.1 563.6,355.1 563.9,352.8 564.3,355.5 564.6,353.1 565.0,353.3 565.3,352.5 565.7,353.7 566.0,353.7 566.4,353.0 566.7,352.4 567.1,352.3 567.4,351.8 567.8,353.3 568.1,351.3 568.5,351.6 568.8,351.4 569.2,350.5 569.5,351.0 569.9,349.4 570.2,351.5 570.6,351.5 570.9,350.3 571.3,352.4 571.6,349.4 572.0,351.0 572.3,350.8 572.7,349.5 573.0,349.8 573.4,351.0 573.7,350.0 574.1,350.3 574.4,351.6 574.8,350.2 575.1,348.0 575.5,349.1 575.8,351.0 576.2,349.9 576.5,348.8 576.9,347.8 577.2,350.6 577.6,352.1 577.9,348.9 578.3,347.9 578.6,351.2 579.0,350.1 579.3,350.5 579.7,350.5 580.0,349.9 580.4,351.6 580.7,352.3 581.1,351.8 581.4,350.7 581.8,352.7 582.1,351.4 582.5,352.4 582.8,350.6 583.2,352.6 583.5,352.8 583.9,353.5 584.2,352.1 584.6,352.7 584.9,351.6 585.3,353.4 585.6,353.4 586.0,353.8 586.3,352.1 586.7,351.2 587.0,352.7 587.4,352.6 587.7,352.1 588.1,353.8 588.4,354.3 588.8,353.7 589.1,354.7 589.5,353.9 589.8,352.3 590.2,352.8 590.5,353.2 590.9,354.5 591.2,354.8 591.6,354.0 591.9,355.1 592.3,352.9 592.6,353.7 593.0,355.6 593.3,354.4 593.7,355.1 594.0,351.6 594.4,351.8 594.7,352.8 595.1,354.9 595.4,355.5 595.8,352.7 596.1,352.2 596.5,352.0 596.8,352.0 597.2,353.6 597.5,352.4 597.9,354.8 598.2,353.2 598.6,351.3 598.9,352.1 599.3,351.5 599.6,352.3 600.0,352.2 600.3,350.5 600.7,351.7 601.0,351.1 601.4,350.0 601.7,350.2 602.1,350.4 602.4,349.0 602.8,348.3 603.1,350.4 603.5,348.7 603.8,347.7 604.2,348.7 604.5,346.2 604.9,347.8 605.2,346.0 605.6,346.9 605.9,345.1 606.3,346.2 606.6,347.9 607.0,346.4 607.3,345.1 607.7,348.4 608.0,345.4 608.4,347.7 608.7,345.2 609.1,343.9 609.4,347.6 609.8,344.8 610.1,346.0 610.5,346.3 610.8,343.2 611.2,344.7 611.5,343.7 611.9,345.0 612.2,344.1 612.6,342.4 612.9,343.8 613.3,344.5 613.6,343.1 614.0,343.9 614.3,342.4 614.7,342.8 615.0,343.1 615.4,342.7 615.7,343.8 616.1,343.2 616.4,342.9 616.8,342.6 617.1,341.8 617.5,340.0 617.8,342.4 618.2,343.0 618.5,341.1 618.9,340.3 619.2,340.4 619.6,341.7 619.9,340.4 620.3,338.7 620.6,339.5 621.0,338.6 621.3,339.1 621.7,338.1 622.0,338.0 622.4,340.6 622.7,340.0 623.1,336.7 623.4,337.3 623.8,337.8 624.1,337.7 624.5,336.4 624.8,339.0 625.2,335.9 625.5,338.5 625.9,338.4 626.2,337.0 626.6,336.6 626.9,337.3 627.3,337.3 627.6,334.6 628.0,335.5 628.3,337.5 628.7,336.7 629.0,336.2 629.4,335.5 629.7,335.7 630.1,335.6 630.4,339.5 630.8,334.8 631.1,338.0 631.5,336.7 631.8,336.3 632.2,336.2 632.5,335.5 632.9,337.7 633.2,336.4 633.6,335.7 633.9,335.5 634.3,335.8 634.6,334.2 635.0,335.1 635.3,334.6 635.7,336.0 636.0,335.9 636.4,332.9 636.7,334.8 637.1,336.1 637.4,333.4 637.8,333.4 638.1,335.9 638.5,334.5 638.8,334.1 639.2,333.1 639.5,334.7 639.9,333.7 640.2,334.6 640.6,334.7 640.9,335.0 641.3,333.7 641.6,333.4 642.0,334.0 642.3,333.8 642.7,334.0 643.0,333.1 643.4,333.4 643.7,333.0 644.1,332.9 644.4,333.7 644.8,334.8 645.1,332.8 645.5,334.1 645.8,333.8 646.2,333.5 646.5,334.1 646.9,332.6 647.2,333.9 647.6,333.6 647.9,330.1 648.3,333.7 648.6,334.0 649.0,335.7 649.3,332.2 649.7,333.6 650.0,333.9 650.4,332.5 650.7,335.1 651.1,334.4 651.4,333.0 651.8,332.6 652.1,333.7 652.5,337.1 652.8,337.0 653.2,331.7 653.5,332.6 653.9,335.7 654.2,334.9 654.6,334.4" fill="none" stroke="#1f77b4" stroke-width="2.6" stroke-linejoin="round"/>
<polyline points="102.6,340.6 102.9,339.2 103.3,345.0 103.6,340.7 104.0,340.0 104.1,332.2 104.4,346.3 104.7,339.6 105.0,340.7 105.4,338.6 105.7,338.2 106.1,340.9 106.4,338.8 106.8,341.6 107.1,339.4 107.5,335.9 107.8,337.0 108.2,338.0 108.5,335.5 108.9,339.8 109.2,339.3 109.6,342.0 109.9,338.1 110.3,339.5 110.6,341.3 111.0,341.7 111.3,337.8 111.7,343.4 112.0,338.7 112.4,342.7 112.7,339.4 113.1,339.2 113.4,337.4 113.8,339.8 114.1,345.4 114.5,338.7 114.8,343.5 115.2,343.1 115.5,339.3 115.9,342.6 116.2,343.2 116.6,339.5 116.9,339.0 117.3,342.6 117.6,341.0 118.0,344.9 118.3,341.1 118.7,337.6 119.0,340.1 119.4,337.6 119.7,341.9 120.1,341.8 120.4,339.3 120.8,338.3 121.1,342.2 121.5,339.4 121.8,342.9 122.2,338.1 122.5,339.6 122.9,339.0 123.2,338.0 123.6,345.7 123.9,344.0 124.3,338.9 124.6,342.0 125.0,336.3 125.3,343.0 125.7,342.7 126.0,339.5 126.4,339.5 126.7,340.8 127.1,341.3 127.4,339.5 127.8,338.4 128.1,339.7 128.5,339.4 128.8,342.0 129.2,340.5 129.5,340.8 129.9,336.6 130.2,339.5 130.6,339.5 130.9,339.2 131.3,340.1 131.6,339.7 132.0,337.0 132.3,342.4 132.7,342.4 133.0,339.2 133.4,341.7 133.7,338.3 134.1,337.5 134.4,339.9 134.8,343.8 135.1,340.1 135.5,337.0 135.8,340.9 136.2,339.1 136.5,338.7 136.9,341.1 137.2,336.5 137.6,336.4 137.9,337.1 138.3,342.7 138.6,340.5 139.0,339.0 139.3,338.8 139.7,341.7 140.0,343.0 140.4,338.7 140.7,340.8 141.1,345.4 141.4,341.6 141.8,339.5 142.1,340.9 142.5,340.4 142.8,341.6 143.2,340.9 143.5,339.0 143.9,339.8 144.2,340.9 144.6,338.5 144.9,340.2 145.3,338.0 145.6,342.7 146.0,343.4 146.3,338.0 146.7,341.8 147.0,340.3 147.4,340.1 147.7,339.3 148.1,340.4 148.4,342.0 148.8,337.1 149.1,342.0 149.5,339.2 149.8,337.3 150.2,339.6 150.5,341.1 150.9,339.5 151.2,340.3 151.6,338.9 151.9,338.4 152.3,341.8 152.6,337.5 153.0,341.7 153.3,340.3 153.7,338.9 154.0,339.0 154.4,338.8 154.7,339.4 155.1,339.3 155.4,339.1 155.8,335.1 156.1,334.7 156.5,340.1 156.8,337.9 157.2,338.0 157.5,338.9 157.9,336.8 158.2,342.6 158.6,339.2 158.9,338.8 159.3,336.9 159.6,341.1 160.0,340.7 160.3,342.4 160.7,341.0 161.0,337.3 161.4,336.3 161.7,342.0 162.1,337.5 162.4,338.8 162.8,338.6 163.1,340.1 163.5,340.2 163.8,336.7 164.2,337.5 164.5,335.1 164.9,340.1 165.2,338.5 165.6,335.2 165.9,341.1 166.3,338.9 166.6,336.6 167.0,337.9 167.3,337.5 167.7,339.0 168.0,339.2 168.4,337.4 168.7,339.6 169.1,333.1 169.4,337.9 169.8,340.0 170.1,340.6 170.5,340.2 170.8,336.2 171.2,334.8 171.5,337.6 171.9,343.3 172.2,338.8 172.6,336.6 172.9,334.5 173.3,338.4 173.6,337.1 174.0,339.1 174.3,338.3 174.7,332.8 175.0,337.6 175.4,339.5 175.7,336.5 176.1,335.1 176.4,335.2 176.8,334.8 177.1,342.3 177.5,340.6 177.8,336.2 178.2,340.5 178.5,335.2 178.9,336.4 179.2,336.0 179.6,337.2 179.9,339.1 180.3,342.2 180.6,339.4 181.0,337.7 181.3,338.4 181.7,337.6 182.0,339.0 182.4,336.5 182.7,339.0 183.1,339.5 183.4,340.7 183.8,337.0 184.1,339.8 184.5,339.7 184.8,337.5 185.2,335.1 185.5,338.3 185.9,341.6 186.2,339.3 186.6,345.0 186.9,341.6 187.3,339.2 187.6,340.9 188.0,342.5 188.3,343.0 188.7,341.9 189.0,343.9 189.4,348.9 189.7,346.1 190.1,345.1 190.4,344.3 190.8,341.9 191.1,346.9 191.5,346.2 191.8,330.8 192.1,367.0 192.4,347.4 192.8,348.3 193.1,347.5 193.4,350.9 193.8,352.0 194.1,348.5 194.5,347.5 194.8,351.7 195.2,354.6 195.5,352.9 195.9,353.5 196.2,349.8 196.6,352.2 196.9,355.2 197.3,355.2 197.6,354.8 198.0,356.6 198.3,357.7 198.7,356.4 199.0,355.1 199.4,354.0 199.7,358.0 200.1,357.6 200.4,358.0 200.8,361.3 201.1,357.7 201.5,359.0 201.8,361.5 202.2,358.4 202.5,356.0 202.9,359.9 203.2,363.4 203.6,360.6 203.9,361.8 204.3,358.6 204.6,365.8 205.0,359.7 205.3,362.5 205.7,364.0 206.0,369.2 206.4,365.6 206.7,364.2 207.1,362.9 207.4,366.0 207.8,364.4 208.1,366.2 208.5,368.2 208.8,371.3 209.2,366.5 209.5,372.5 209.9,365.6 210.2,374.8 210.6,369.5 210.9,370.6 211.3,370.9 211.6,372.9 212.0,372.8 212.3,372.7 212.7,372.4 213.0,373.2 213.4,375.1 213.7,374.3 214.1,374.4 214.4,373.3 214.8,377.1 215.1,378.6 215.5,375.8 215.8,380.8 216.2,379.1 216.5,379.9 216.9,376.4 217.2,382.2 217.6,384.2 217.9,386.3 218.3,381.2 218.6,383.0 219.0,385.4 219.3,385.5 219.7,383.5 220.0,385.7 220.4,388.4 220.7,388.0 221.1,387.3 221.4,390.3 221.8,385.3 222.1,390.1 222.5,388.2 222.8,389.5 223.2,392.6 223.5,395.2 223.9,392.8 224.2,392.6 224.6,396.5 224.9,395.0 225.3,388.9 225.6,392.9 226.0,393.3 226.3,393.7 226.7,392.3 227.0,397.5 227.4,396.9 227.7,400.8 228.1,396.8 228.4,398.1 228.8,396.6 229.1,400.9 229.5,401.9 229.8,403.2 230.2,402.1 230.5,399.0 230.9,403.3 231.2,399.0 231.6,400.0 231.9,401.3 232.3,406.7 232.6,400.8 233.0,400.5 233.3,403.5 233.7,405.9 234.0,404.7 234.4,404.9 234.7,402.0 235.1,403.1 235.4,406.8 235.8,404.2 236.1,402.4 236.5,402.9 236.8,406.3 237.2,407.8 237.5,403.7 237.9,399.7 238.2,405.9 238.6,398.6 238.9,399.8 239.3,399.7 239.6,397.4 240.0,395.7 240.3,399.3 240.7,394.2 241.0,387.8 241.4,388.6 241.7,392.3 242.1,386.5 242.4,382.4 242.8,386.2 243.1,383.2 243.5,380.3 243.8,380.0 244.2,375.7 244.5,375.5 244.9,374.8 245.2,369.8 245.6,373.1 245.9,364.9 246.3,371.8 246.6,364.5 247.0,363.6 247.3,357.4 247.7,361.2 248.0,355.0 248.4,357.0 248.7,353.9 249.1,349.9 249.4,355.4 249.8,349.2 250.1,345.5 250.5,344.2 250.8,344.3 251.2,341.7 251.5,342.1 251.9,336.3 252.2,336.5 252.6,332.5 252.9,329.9 253.3,332.0 253.6,325.4 254.0,321.0 254.3,325.4 254.7,320.3 255.0,321.5 255.4,319.8 255.7,318.3 256.1,315.7 256.4,318.7 256.8,310.5 257.1,314.4 257.5,311.8 257.8,312.2 258.2,310.9 258.5,312.8 258.9,312.2 259.2,310.7 259.6,311.5 259.9,312.3 260.3,311.3 260.6,315.6 261.0,312.7 261.3,311.3 261.7,313.7 262.0,312.6 262.4,311.6 262.7,312.2 263.1,310.5 263.4,314.7 263.8,316.3 264.1,314.1 264.5,313.3 264.8,312.1 265.2,312.8 265.5,314.6 265.9,313.6 266.2,314.0 266.6,312.5 266.9,313.2 267.3,312.7 267.6,312.9 268.0,312.2 268.3,311.8 268.7,309.6 269.0,309.9 269.4,307.8 269.7,308.4 270.1,308.6 270.4,308.8 270.8,305.4 271.1,305.4 271.5,305.6 271.9,304.1 272.2,305.1 272.6,304.8 272.9,303.5 273.3,306.9 273.6,303.4 274.0,304.2 274.3,300.8 274.7,304.7 275.0,303.8 275.4,303.5 275.7,299.6 276.1,302.9 276.4,301.9 276.8,303.5 277.1,302.8 277.5,302.0 277.8,302.2 278.2,304.9 278.5,304.7 278.9,300.4 279.2,302.5 279.6,304.3 279.9,302.9 280.3,304.5 280.6,303.9 281.0,307.6 281.3,306.8 281.7,306.2 282.0,309.5 282.4,309.2 282.7,311.8 283.1,309.4 283.4,308.8 283.8,313.5 284.1,313.3 284.5,311.5 284.8,310.9 285.2,316.3 285.5,317.1 285.9,316.6 286.2,318.0 286.6,319.8 286.9,318.2 287.3,323.2 287.6,319.9 288.0,322.8 288.3,323.4 288.7,323.2 289.0,323.3 289.4,326.4 289.7,323.0 290.1,325.9 290.4,328.8 290.8,325.4 291.1,324.4 291.5,326.3 291.8,323.0 292.2,326.1 292.5,325.5 292.9,326.0 293.2,325.8 293.6,328.1 293.9,327.0 294.3,325.1 294.6,328.6 295.0,324.7 295.3,328.3 295.7,324.9 296.0,323.9 296.4,324.4 296.7,327.1 297.1,324.8 297.4,324.2 297.8,321.4 298.1,323.7 298.5,322.9 298.8,322.6 299.2,321.6 299.5,320.0 299.9,324.2 300.2,320.4 300.6,322.6 300.9,322.3 301.3,321.4 301.6,321.2 302.0,321.9 302.3,320.1 302.7,320.4 303.0,321.1 303.4,320.9 303.7,320.2 304.1,316.6 304.4,320.9 304.8,319.2 305.1,323.2 305.5,323.6 305.8,322.2 306.2,322.5 306.5,319.1 306.9,322.3 307.2,321.6 307.6,326.1 307.9,321.4 308.3,327.4 308.6,324.0 309.0,321.4 309.3,327.9 309.7,325.0 310.0,326.2 310.4,327.5 310.7,323.3 311.1,325.1 311.4,325.9 311.8,327.5 312.1,325.1 312.5,326.0 312.8,321.9 313.2,325.2 313.5,322.5 313.9,322.9 314.2,323.2 314.6,323.8 314.9,320.6 315.3,321.7 315.6,319.8 316.0,320.2 316.3,317.5 316.7,319.3 317.0,314.1 317.4,312.8 317.7,315.1 318.1,310.6 318.4,311.5 318.8,310.2 319.1,305.4 319.5,306.6 319.8,305.3 320.2,305.0 320.5,302.1 320.9,304.1 321.2,303.5 321.6,300.7 321.9,302.0 322.3,301.8 322.6,298.1 323.0,300.2 323.3,301.3 323.7,300.7 324.0,297.4 324.4,297.5 324.7,298.4 325.1,298.8 325.4,299.3 325.8,298.0 326.1,299.0 326.5,296.7 326.8,300.9 327.2,297.9 327.5,296.9 327.9,298.1 328.2,296.7 328.6,299.0 328.9,300.4 329.3,302.5 329.6,304.3 330.0,301.9 330.3,302.9 330.7,306.0 331.0,307.3 331.4,307.7 331.7,307.7 332.1,306.3 332.4,308.3 332.8,307.6 333.1,309.9 333.5,313.9 333.8,315.3 334.2,313.3 334.5,315.6 334.9,317.6 335.2,314.5 335.6,314.8 335.9,316.7 336.3,315.1 336.6,320.2 337.0,319.4 337.3,319.3 337.7,320.0 338.0,320.6 338.4,319.6 338.7,317.4 339.1,319.9 339.4,317.7 339.8,318.6 340.1,316.4 340.5,317.0 340.8,313.9 341.2,316.0 341.5,314.8 341.9,316.4 342.2,312.9 342.6,312.2 342.9,314.1 343.3,309.5 343.6,313.2 344.0,311.7 344.3,310.7 344.7,311.3 345.0,310.6 345.4,309.5 345.7,312.0 346.1,309.4 346.4,311.1 346.8,310.7 347.1,309.9 347.5,310.3 347.8,311.9 348.2,311.1 348.5,314.1 348.9,313.6 349.2,311.8 349.6,314.4 349.9,309.4 350.3,316.3 350.6,311.9 351.0,312.5 351.3,316.8 351.7,313.1 352.0,315.1 352.4,317.4 352.7,314.2 353.1,317.8 353.4,320.0 353.8,318.0 354.1,322.0 354.5,318.7 354.8,322.9 355.2,321.7 355.5,321.7 355.9,321.6 356.2,320.9 356.6,324.5 356.9,321.3 357.3,323.5 357.6,324.9 358.0,324.6 358.3,325.1 358.7,323.2 359.0,322.1 359.4,324.5 359.7,323.8 360.1,325.8 360.4,320.9 360.8,323.9 361.1,324.4 361.5,322.8 361.8,320.9 362.2,323.3 362.5,324.8 362.9,321.9 363.2,321.4 363.6,321.1 363.9,321.0 364.3,319.6 364.6,326.5 365.0,321.9 365.3,324.0 365.7,323.9 366.0,321.1 366.4,322.8 366.7,324.9 367.1,324.2 367.4,323.7 367.8,321.0 368.1,321.2 368.5,322.4 368.8,324.9 369.2,321.4 369.5,323.8 369.9,324.7 370.2,324.3 370.6,323.2 370.9,322.4 371.3,324.7 371.6,323.3 372.0,324.6 372.3,323.4 372.7,323.6 373.0,324.0 373.4,323.5 373.7,326.8 374.1,323.5 374.4,326.7 374.8,325.7 375.1,327.6 375.5,324.5 375.8,327.5 376.2,327.9 376.5,330.4 376.9,330.0 377.2,329.2 377.6,328.7 377.9,329.0 378.3,330.5 378.6,330.9 379.0,329.7 379.3,330.5 379.7,326.0 380.0,329.7 380.4,331.1 380.7,327.8 381.1,326.3 381.4,329.1 381.8,323.5 382.1,328.0 382.5,323.7 382.8,325.8 383.2,322.6 383.5,326.2 383.9,323.2 384.2,321.4 384.6,321.6 384.9,323.0 385.3,322.5 385.6,319.8 386.0,318.4 386.3,320.5 386.7,317.7 387.0,315.9 387.4,319.3 387.7,313.1 388.1,315.5 388.4,317.0 388.8,314.6 389.1,313.8 389.5,314.3 389.8,310.9 390.2,312.0 390.5,311.6 390.9,312.9 391.2,311.9 391.6,311.1 391.9,312.7 392.3,312.8 392.6,308.7 393.0,314.5 393.3,311.1 393.7,309.7 394.0,313.2 394.4,306.6 394.7,308.7 395.1,311.2 395.4,309.8 395.8,309.2 396.1,310.9 396.5,313.9 396.8,312.0 397.2,313.6 397.5,313.8 397.9,313.0 398.2,313.6 398.6,312.9 398.9,314.7 399.3,316.1 399.6,315.1 400.0,316.0 400.3,317.5 400.7,317.5 401.0,318.5 401.4,315.7 401.7,319.5 402.1,316.6 402.4,320.2 402.8,318.8 403.1,318.2 403.5,316.6 403.8,319.6 404.2,317.1 404.5,316.6 404.9,313.8 405.2,318.8 405.6,315.1 405.9,314.2 406.3,317.0 406.6,315.7 407.0,310.6 407.3,313.9 407.7,316.1 408.0,312.9 408.4,311.8 408.7,313.9 409.1,313.4 409.4,310.5 409.8,310.5 410.1,310.3 410.5,310.0 410.8,308.5 411.2,309.1 411.5,310.8 411.9,307.0 412.2,310.6 412.6,309.5 412.9,309.5 413.3,309.2 413.6,306.5 414.0,305.0 414.3,309.1 414.7,307.1 415.0,307.7 415.4,308.5 415.7,305.0 416.1,307.0 416.4,307.1 416.8,305.8 417.1,306.1 417.5,307.7 417.8,308.5 418.2,310.2 418.5,309.9 418.9,311.2 419.2,308.6 419.6,310.2 419.9,310.2 420.3,310.5 420.6,310.7 421.0,314.3 421.3,315.3 421.7,313.9 422.0,310.4 422.4,313.6 422.7,315.0 423.1,319.7 423.4,319.6 423.8,318.3 424.1,320.6 424.5,320.7 424.8,320.7 425.2,321.4 425.5,320.9 425.9,321.5 426.2,323.5 426.6,322.6 426.9,325.4 427.3,324.7 427.6,324.2 428.0,326.4 428.3,324.8 428.7,325.5 429.0,324.7 429.4,327.3 429.7,326.5 430.1,326.0 430.4,325.9 430.8,327.0 431.1,325.5 431.5,323.3 431.8,328.8 432.2,326.2 432.5,327.2 432.9,324.6 433.2,323.4 433.6,324.2 433.9,326.8 434.3,325.3 434.6,325.6 435.0,325.2 435.3,323.6 435.7,328.6 436.0,324.7 436.4,324.7 436.7,324.6 437.1,327.0 437.4,328.5 437.8,327.0 438.1,327.5 438.5,326.6 438.8,329.3 439.2,327.7 439.5,328.1 439.9,326.0 440.2,329.7 440.6,329.0 440.9,327.4 441.3,327.2 441.6,329.1 442.0,326.6 442.3,328.9 442.7,327.6 443.0,327.4 443.4,330.8 443.7,327.7 444.1,326.7 444.4,332.0 444.8,328.9 445.1,331.9 445.5,330.6 445.8,329.5 446.2,328.9 446.5,331.7 446.9,333.1 447.2,332.3 447.6,333.4 447.9,333.6 448.3,335.4 448.6,336.7 449.0,336.9 449.3,334.9 449.7,337.6 450.0,339.0 450.4,339.5 450.7,337.9 451.1,340.4 451.4,339.4 451.8,339.5 452.1,342.9 452.5,341.0 452.8,344.4 453.2,344.3 453.5,339.7 453.9,343.0 454.2,340.2 454.6,343.4 454.9,344.1 455.3,344.4 455.6,344.1 456.0,339.9 456.3,342.3 456.7,339.5 457.0,342.4 457.4,342.8 457.7,341.2 458.1,342.6 458.4,339.8 458.8,340.2 459.1,338.9 459.5,337.7 459.8,340.5 460.2,340.1 460.5,338.3 460.9,338.3 461.2,337.0 461.6,340.3 461.9,339.8 462.3,337.8 462.6,337.7 463.0,337.3 463.3,336.3 463.7,337.9 464.0,338.5 464.4,333.4 464.7,337.6 465.1,334.5 465.4,335.0 465.8,333.1 466.1,334.4 466.5,334.9 466.8,334.5 467.2,339.0 467.5,334.5 467.9,334.7 468.2,334.8 468.6,336.1 468.9,336.7 469.3,336.9 469.6,336.0 470.0,336.6 470.3,332.9 470.7,336.9 471.0,335.5 471.4,337.8 471.7,336.8 472.1,338.9 472.4,337.9 472.8,339.8 473.1,336.0 473.5,341.1 473.8,337.9 474.2,343.0 474.5,338.7 474.9,341.4 475.2,340.3 475.6,342.5 475.9,344.4 476.3,341.9 476.6,344.3 477.0,345.5 477.3,343.0 477.7,346.3 478.0,344.6 478.4,346.8 478.7,344.6 479.1,350.8 479.4,346.8 479.8,344.2 480.1,348.5 480.5,347.6 480.8,346.1 481.2,348.4 481.5,347.3 481.9,349.8 482.2,348.4 482.6,348.6 482.9,350.8 483.3,351.4 483.6,351.1 484.0,351.9 484.3,351.6 484.7,352.4 485.0,354.1 485.4,353.9 485.7,353.6 486.1,355.3 486.4,350.4 486.8,354.7 487.1,350.4 487.5,352.5 487.8,352.3 488.2,354.7 488.5,356.3 488.9,353.2 489.2,351.4 489.6,355.9 489.9,354.3 490.3,352.5 490.6,358.2 491.0,355.6 491.3,355.4 491.7,355.5 492.0,354.9 492.4,356.5 492.7,355.8 493.1,357.7 493.4,353.6 493.8,356.1 494.1,357.9 494.5,354.5 494.8,357.6 495.2,355.3 495.5,358.2 495.9,358.8 496.2,357.8 496.6,356.9 496.9,355.7 497.3,356.0 497.6,357.5 498.0,357.1 498.3,355.6 498.7,357.2 499.0,355.2 499.4,358.9 499.7,358.2 500.1,356.8 500.4,358.4 500.8,356.2 501.1,358.7 501.5,356.5 501.8,354.2 502.2,353.0 502.5,358.9 502.9,353.3 503.2,355.6 503.6,357.1 503.9,355.1 504.3,354.2 504.6,355.3 505.0,355.9 505.3,355.9 505.7,356.5 506.0,354.0 506.4,357.6 506.7,356.3 507.1,357.2 507.4,357.5 507.8,356.9 508.1,354.4 508.5,355.1 508.8,355.2 509.2,354.9 509.5,355.7 509.9,354.1 510.2,356.9 510.6,356.8 510.9,358.2 511.3,355.4 511.6,358.5 512.0,355.2 512.3,354.3 512.7,354.5 513.0,356.5 513.4,355.1 513.7,353.2 514.1,351.9 514.4,350.2 514.8,347.7 515.1,348.3 515.5,346.1 515.8,338.0 516.1,370.5 516.4,343.9 516.8,342.2 517.1,338.1 517.5,341.3 517.8,339.1 518.2,338.5 518.5,340.7 518.9,335.7 519.2,336.6 519.6,343.9 519.9,341.4 520.3,341.6 520.6,340.6 521.0,341.1 521.3,340.4 521.7,340.1 522.0,340.2 522.4,339.9 522.7,340.0 523.1,336.5 523.4,337.2 523.8,340.6 524.1,336.4 524.5,337.3 524.8,336.7 525.2,335.5 525.5,339.3 525.9,336.8 526.2,332.0 526.6,337.3 526.9,332.8 527.3,331.5 527.6,333.5 528.0,336.2 528.3,331.4 528.7,336.2 529.0,332.8 529.4,336.5 529.7,335.6 530.1,332.7 530.4,329.6 530.8,333.9 531.1,329.9 531.5,335.3 531.8,332.9 532.2,336.0 532.5,332.6 532.9,331.8 533.2,334.5 533.6,331.6 533.9,333.6 534.3,333.3 534.6,332.0 535.0,330.9 535.3,334.5 535.7,336.4 536.0,332.8 536.4,331.6 536.7,332.7 537.1,331.0 537.4,329.7 537.8,335.2 538.1,333.5 538.5,332.6 538.8,336.5 539.2,333.2 539.5,333.1 539.9,334.8 540.2,332.0 540.6,333.8 540.9,333.8 541.3,334.5 541.6,333.8 542.0,335.7 542.3,334.6 542.7,334.4 543.0,334.6 543.4,331.9 543.7,331.3 544.1,332.5 544.4,335.0 544.8,330.5 545.1,333.4 545.5,331.3 545.8,331.8 546.2,331.0 546.5,329.1 546.9,335.0 547.2,331.7 547.6,332.1 547.9,332.1 548.3,327.0 548.6,334.3 549.0,334.8 549.3,331.5 549.7,332.1 550.0,332.8 550.4,332.7 550.7,333.3 551.1,333.0 551.4,331.5 551.8,332.9 552.1,329.9 552.5,332.2 552.8,334.9 553.2,335.7 553.5,334.5 553.9,335.5 554.2,333.8 554.6,336.9 554.9,335.6 555.3,334.8 555.6,324.4 555.9,347.9 556.2,337.2 556.6,341.4 556.9,339.7 557.3,340.6 557.6,338.4 558.0,341.1 558.3,342.0 558.7,342.7 559.0,343.0 559.4,343.2 559.7,344.2 560.1,345.1 560.4,345.1 560.8,341.7 561.1,343.8 561.5,346.1 561.8,345.6 562.2,343.6 562.5,344.1 562.9,344.1 563.2,344.6 563.6,341.3 563.9,341.2 564.3,343.6 564.6,342.3 565.0,343.0 565.3,343.1 565.7,344.8 566.0,344.4 566.4,346.7 566.7,344.7 567.1,344.2 567.4,344.4 567.8,344.2 568.1,343.0 568.5,342.5 568.8,346.5 569.2,343.2 569.5,342.9 569.9,342.3 570.2,343.1 570.6,342.0 570.9,342.8 571.3,341.3 571.6,341.6 572.0,347.1 572.3,344.1 572.7,344.3 573.0,345.7 573.4,344.4 573.7,344.2 574.1,343.0 574.4,345.0 574.8,342.3 575.1,343.0 575.5,342.7 575.8,345.2 576.2,343.2 576.5,343.4 576.9,345.4 577.2,345.3 577.6,343.6 577.9,343.2 578.3,341.9 578.6,342.4 579.0,343.5 579.3,342.8 579.7,344.0 580.0,342.3 580.4,339.7 580.7,339.9 581.1,337.6 581.4,341.2 581.8,338.9 582.1,340.8 582.5,339.0 582.8,339.6 583.2,338.4 583.5,338.3 583.9,339.0 584.2,337.2 584.6,337.3 584.9,336.4 585.3,336.2 585.6,335.6 586.0,334.4 586.3,335.2 586.7,336.0 587.0,334.7 587.4,333.2 587.7,331.9 588.1,336.2 588.4,334.4 588.8,330.0 589.1,328.9 589.5,327.6 589.8,330.5 590.2,325.5 590.5,327.3 590.9,324.9 591.2,325.9 591.6,323.6 591.9,324.2 592.3,323.8 592.6,324.6 593.0,324.7 593.3,322.7 593.7,321.8 594.0,323.3 594.4,317.9 594.7,322.5 595.1,318.7 595.4,317.9 595.8,320.2 596.1,316.9 596.5,317.0 596.8,317.8 597.2,318.0 597.5,313.8 597.9,316.2 598.2,315.3 598.6,314.1 598.9,316.4 599.3,317.3 599.6,314.3 600.0,313.9 600.3,311.4 600.7,311.8 601.0,311.2 601.4,312.4 601.7,311.9 602.1,310.2 602.4,310.8 602.8,309.2 603.1,310.2 603.5,310.8 603.8,311.0 604.2,310.5 604.5,310.9 604.9,310.4 605.0,301.9 605.3,332.3 605.6,310.7 606.0,309.5 606.3,311.9 606.7,309.8 607.0,310.0 607.4,312.3 607.7,310.9 608.1,311.4 608.4,313.6 608.8,309.8 609.1,309.2 609.5,314.2 609.8,310.0 610.2,309.8 610.5,314.2 610.9,311.4 611.2,310.5 611.6,307.6 611.9,310.5 612.3,309.5 612.6,311.5 613.0,307.5 613.3,310.7 613.7,312.7 614.0,310.5 614.4,309.2 614.7,306.3 615.1,309.3 615.4,308.9 615.8,308.3 616.1,307.7 616.5,311.6 616.8,311.7 617.2,307.9 617.5,308.2 617.9,308.1 618.2,307.6 618.6,309.9 618.9,310.1 619.3,310.7 619.6,309.4 620.0,309.7 620.3,311.4 620.7,310.1 621.0,309.9 621.4,306.7 621.7,309.3 622.1,309.1 622.4,309.8 622.8,311.7 623.1,309.1 623.5,312.4 623.8,308.9 624.2,312.9 624.5,308.9 624.9,310.7 625.2,307.7 625.6,309.1 625.9,307.5 626.3,312.3 626.6,311.2 627.0,308.1 627.3,312.6 627.7,311.4 628.0,310.5 628.4,312.2 628.7,313.3 629.1,313.1 629.4,313.6 629.8,314.6 630.1,315.5 630.5,312.1 630.8,315.3 631.2,312.5 631.5,313.6 631.9,312.8 632.2,314.4 632.6,317.6 632.9,316.6 633.3,318.9 633.6,315.8 634.0,319.1 634.3,313.6 634.7,318.5 635.0,319.4 635.4,319.1 635.7,317.4 636.1,317.5 636.4,318.6 636.8,322.1 637.1,320.7 637.5,319.1 637.8,316.8 638.2,321.4 638.5,318.7 638.9,321.6 639.2,318.0 639.6,318.8 639.9,321.2 640.3,321.3 640.6,322.7 641.0,321.4 641.3,321.0 641.7,322.5 642.0,321.3 642.4,320.5 642.7,322.0 643.1,324.3 643.4,322.8 643.8,323.2 644.1,324.1 644.5,323.7 644.8,321.4 645.2,322.6 645.5,323.9 645.9,326.2 646.2,323.8 646.6,322.3 646.9,323.9 647.3,324.0 647.6,322.0 648.0,324.6 648.3,328.2 648.7,323.0 649.0,325.1 649.4,326.0 649.7,324.2 650.1,321.4 650.4,325.0 650.8,323.6 651.1,323.4 651.5,324.8 651.8,324.4 652.2,325.7 652.5,326.1 652.9,322.5 653.2,325.2 653.6,323.6 653.9,324.1 654.3,325.9" fill="none" stroke="#ff7f0e" stroke-width="2.6" stroke-linejoin="round"/>
<line x1="239.3" y1="291.6" x2="239.3" y2="411.9" stroke="#0c800c" stroke-width="2"/>
<line x1="258.8" y1="291.6" x2="258.8" y2="411.9" stroke="#e31a1c" stroke-width="2"/>
</g>
<rect x="76.0" y="291.6" width="606.4" height="120.29999999999995" fill="none" stroke="#666666" stroke-width="1.6"/>
<line x1="148.1" y1="411.9" x2="148.1" y2="415.7" stroke="#666666" stroke-width="1.3"/>
<line x1="220.7" y1="411.9" x2="220.7" y2="415.7" stroke="#666666" stroke-width="1.3"/>
<line x1="293.3" y1="411.9" x2="293.3" y2="415.7" stroke="#666666" stroke-width="1.3"/>
<line x1="366.0" y1="411.9" x2="366.0" y2="415.7" stroke="#666666" stroke-width="1.3"/>
<line x1="438.6" y1="411.9" x2="438.6" y2="415.7" stroke="#666666" stroke-width="1.3"/>
<line x1="511.2" y1="411.9" x2="511.2" y2="415.7" stroke="#666666" stroke-width="1.3"/>
<line x1="583.9" y1="411.9" x2="583.9" y2="415.7" stroke="#666666" stroke-width="1.3"/>
<line x1="656.5" y1="411.9" x2="656.5" y2="415.7" stroke="#666666" stroke-width="1.3"/>
<line x1="72.2" y1="315.6" x2="76.0" y2="315.6" stroke="#666666" stroke-width="1.3"/>
<line x1="72.2" y1="355.5" x2="76.0" y2="355.5" stroke="#666666" stroke-width="1.3"/>
<line x1="72.2" y1="395.4" x2="76.0" y2="395.4" stroke="#666666" stroke-width="1.3"/>
<rect x="509.6" y="300.4" width="163.6" height="101.6" rx="3" fill="#fff" fill-opacity="0.8" stroke="#d6d6d6" stroke-width="1.1"/>
<line x1="515.2" y1="313.3" x2="552.9" y2="313.3" stroke="#1f77b4" stroke-width="2.4"/>
<line x1="515.2" y1="337.6" x2="552.9" y2="337.6" stroke="#ff7f0e" stroke-width="2.4"/>
<line x1="515.2" y1="362.0" x2="552.9" y2="362.0" stroke="#0c800c" stroke-width="2"/>
<line x1="515.2" y1="386.0" x2="552.9" y2="386.0" stroke="#e31a1c" stroke-width="2"/>
<g>
<text transform="translate(334.17,12.20) scale(0.9778,1)" font-family='"Liberation Serif", serif' font-size="15.5" font-weight="normal" fill="#000" >(a)</text>
<text transform="translate(333.66,247.80) scale(0.9910,1)" font-family='"Liberation Serif", serif' font-size="15.5" font-weight="normal" fill="#000" >(b)</text>
<text transform="translate(170.74,48.60) scale(1.0642,1)" font-family='"Liberation Sans", sans-serif' font-size="22" font-weight="normal" fill="#000" stroke="#000" stroke-width="0.15">Picking time travel for P-wave (1 MHz)</text>
<text transform="translate(168.94,284.60) scale(1.0645,1)" font-family='"Liberation Sans", sans-serif' font-size="22" font-weight="normal" fill="#000" stroke="#000" stroke-width="0.15">Picking time travel for S-wave (500 KHz)</text>
<text transform="translate(327.30,217.50) scale(1.1829,1)" font-family='"Liberation Sans", sans-serif' font-size="17.1" font-weight="normal" fill="#000" stroke="#000" stroke-width="0.15">Time [<tspan font-weight="bold" font-style="italic">μs</tspan>]</text>
<text transform="translate(337.00,453.60) scale(1.1886,1)" font-family='"Liberation Sans", sans-serif' font-size="17.1" font-weight="normal" fill="#000" stroke="#000" stroke-width="0.15">Time [<tspan font-weight="bold" font-style="italic">μs</tspan>]</text>
<text transform="translate(24.00,147.60) rotate(-90) scale(1.1769,1)" font-family='"Liberation Sans", sans-serif' font-size="17.1" font-weight="normal" fill="#000" stroke="#000" stroke-width="0.15">A [u.a.]</text>
<text transform="translate(14.90,383.70) rotate(-90) scale(1.1846,1)" font-family='"Liberation Sans", sans-serif' font-size="17.1" font-weight="normal" fill="#000" stroke="#000" stroke-width="0.15">A [u.a.]</text>
<text transform="translate(88.99,195.70) scale(1.2114,1)" font-family='"Liberation Sans", sans-serif' font-size="17.3" font-weight="bold" fill="#000" stroke="#000" stroke-width="0.45" stroke-linejoin="round">0</text>
<text transform="translate(193.73,195.70) scale(1.1611,1)" font-family='"Liberation Sans", sans-serif' font-size="17.3" font-weight="bold" fill="#000" stroke="#000" stroke-width="0.45" stroke-linejoin="round">10</text>
<text transform="translate(304.36,195.70) scale(1.1405,1)" font-family='"Liberation Sans", sans-serif' font-size="17.3" font-weight="bold" fill="#000" stroke="#000" stroke-width="0.45" stroke-linejoin="round">20</text>
<text transform="translate(414.21,195.70) scale(1.1730,1)" font-family='"Liberation Sans", sans-serif' font-size="17.3" font-weight="bold" fill="#000" stroke="#000" stroke-width="0.45" stroke-linejoin="round">30</text>
<text transform="translate(524.75,195.70) scale(1.1467,1)" font-family='"Liberation Sans", sans-serif' font-size="17.3" font-weight="bold" fill="#000" stroke="#000" stroke-width="0.45" stroke-linejoin="round">40</text>
<text transform="translate(634.46,195.70) scale(1.1784,1)" font-family='"Liberation Sans", sans-serif' font-size="17.3" font-weight="bold" fill="#000" stroke="#000" stroke-width="0.45" stroke-linejoin="round">50</text>
<text transform="translate(48.63,87.60) scale(1.0286,1)" font-family='"Liberation Sans", sans-serif' font-size="17.3" font-weight="bold" fill="#000" stroke="#000" stroke-width="0.45" stroke-linejoin="round">1</text>
<text transform="translate(47.08,120.70) scale(1.2343,1)" font-family='"Liberation Sans", sans-serif' font-size="17.3" font-weight="bold" fill="#000" stroke="#000" stroke-width="0.45" stroke-linejoin="round">0</text>
<text transform="translate(33.80,154.00) scale(1.2053,1)" font-family='"Liberation Sans", sans-serif' font-size="17.3" font-weight="bold" fill="#000" stroke="#000" stroke-width="0.45" stroke-linejoin="round">−1</text>
<text transform="translate(143.22,431.60) scale(1.0270,1)" font-family='"Liberation Sans", sans-serif' font-size="17.3" font-weight="bold" fill="#000" stroke="#000" stroke-width="0.45" stroke-linejoin="round">5</text>
<text transform="translate(209.59,431.60) scale(1.1556,1)" font-family='"Liberation Sans", sans-serif' font-size="17.3" font-weight="bold" fill="#000" stroke="#000" stroke-width="0.45" stroke-linejoin="round">10</text>
<text transform="translate(282.34,431.60) scale(1.1288,1)" font-family='"Liberation Sans", sans-serif' font-size="17.3" font-weight="bold" fill="#000" stroke="#000" stroke-width="0.45" stroke-linejoin="round">15</text>
<text transform="translate(355.08,431.60) scale(1.1622,1)" font-family='"Liberation Sans", sans-serif' font-size="17.3" font-weight="bold" fill="#000" stroke="#000" stroke-width="0.45" stroke-linejoin="round">20</text>
<text transform="translate(428.12,431.60) scale(1.1040,1)" font-family='"Liberation Sans", sans-serif' font-size="17.3" font-weight="bold" fill="#000" stroke="#000" stroke-width="0.45" stroke-linejoin="round">25</text>
<text transform="translate(500.34,431.60) scale(1.1622,1)" font-family='"Liberation Sans", sans-serif' font-size="17.3" font-weight="bold" fill="#000" stroke="#000" stroke-width="0.45" stroke-linejoin="round">30</text>
<text transform="translate(573.18,431.60) scale(1.1253,1)" font-family='"Liberation Sans", sans-serif' font-size="17.3" font-weight="bold" fill="#000" stroke="#000" stroke-width="0.45" stroke-linejoin="round">35</text>
<text transform="translate(645.89,431.60) scale(1.1467,1)" font-family='"Liberation Sans", sans-serif' font-size="17.3" font-weight="bold" fill="#000" stroke="#000" stroke-width="0.45" stroke-linejoin="round">40</text>
<text transform="translate(37.60,321.60) scale(1.1914,1)" font-family='"Liberation Sans", sans-serif' font-size="17.3" font-weight="bold" fill="#000" stroke="#000" stroke-width="0.45" stroke-linejoin="round">0.1</text>
<text transform="translate(37.48,361.50) scale(1.2391,1)" font-family='"Liberation Sans", sans-serif' font-size="17.3" font-weight="bold" fill="#000" stroke="#000" stroke-width="0.45" stroke-linejoin="round">0.0</text>
<text transform="translate(24.58,401.40) scale(1.2358,1)" font-family='"Liberation Sans", sans-serif' font-size="17.3" font-weight="bold" fill="#000" stroke="#000" stroke-width="0.45" stroke-linejoin="round">−0.1</text>
<text transform="translate(566.44,320.00) scale(1.0217,1)" font-family='"Liberation Sans", sans-serif' font-size="17.3" font-weight="bold" fill="#000" stroke="#000" stroke-width="0.45" stroke-linejoin="round">S1</text>
<text transform="translate(566.44,344.10) scale(1.0341,1)" font-family='"Liberation Sans", sans-serif' font-size="17.3" font-weight="bold" fill="#000" stroke="#000" stroke-width="0.45" stroke-linejoin="round">S2</text>
<text transform="translate(565.51,368.00) scale(1.1636,1)" font-family='"Liberation Sans", sans-serif' font-size="17.3" font-weight="bold" fill="#000" stroke="#000" stroke-width="0.45" stroke-linejoin="round">S1 picking</text>
<text transform="translate(565.51,392.00) scale(1.1636,1)" font-family='"Liberation Sans", sans-serif' font-size="17.3" font-weight="bold" fill="#000" stroke="#000" stroke-width="0.45" stroke-linejoin="round">S2 picking</text>
</g>
</svg>
</body></html>
